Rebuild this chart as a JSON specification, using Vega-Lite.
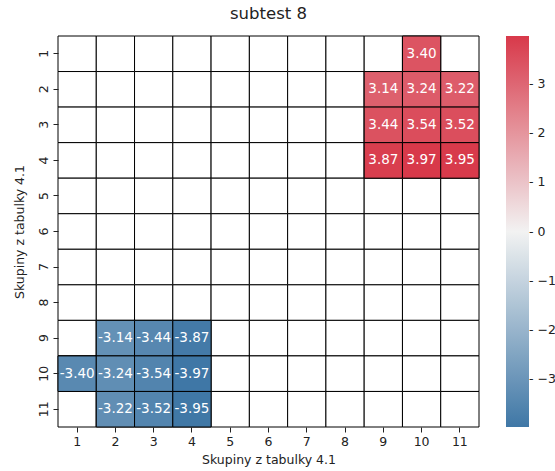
{
  "$schema": "https://vega.github.io/schema/vega-lite/v6.json",
  "autosize": "none",
  "width": 421,
  "height": 391,
  "padding": {"left": 58, "top": 36, "right": 76, "bottom": 44},
  "title": {"text": "subtest 8", "fontSize": 16.5, "fontWeight": "normal", "font": "DejaVu Sans", "color": "#222222", "offset": 13},
  "config": {
    "view": {"stroke": null},
    "font": "DejaVu Sans",
    "axis": {"labelFont": "DejaVu Sans", "titleFont": "DejaVu Sans", "labelFontSize": 12.5, "titleFontSize": 12.5, "titleFontWeight": "normal", "labelColor": "#222222", "titleColor": "#222222", "tickColor": "#222222", "domain": false, "tickSize": 5, "grid": false}
  },
  "data": {
    "values": [
      {"r": 1, "c": 1, "v": null}, {"r": 1, "c": 2, "v": null}, {"r": 1, "c": 3, "v": null}, {"r": 1, "c": 4, "v": null}, {"r": 1, "c": 5, "v": null}, {"r": 1, "c": 6, "v": null}, {"r": 1, "c": 7, "v": null}, {"r": 1, "c": 8, "v": null}, {"r": 1, "c": 9, "v": null}, {"r": 1, "c": 10, "v": 3.40}, {"r": 1, "c": 11, "v": null},
      {"r": 2, "c": 1, "v": null}, {"r": 2, "c": 2, "v": null}, {"r": 2, "c": 3, "v": null}, {"r": 2, "c": 4, "v": null}, {"r": 2, "c": 5, "v": null}, {"r": 2, "c": 6, "v": null}, {"r": 2, "c": 7, "v": null}, {"r": 2, "c": 8, "v": null}, {"r": 2, "c": 9, "v": 3.14}, {"r": 2, "c": 10, "v": 3.24}, {"r": 2, "c": 11, "v": 3.22},
      {"r": 3, "c": 1, "v": null}, {"r": 3, "c": 2, "v": null}, {"r": 3, "c": 3, "v": null}, {"r": 3, "c": 4, "v": null}, {"r": 3, "c": 5, "v": null}, {"r": 3, "c": 6, "v": null}, {"r": 3, "c": 7, "v": null}, {"r": 3, "c": 8, "v": null}, {"r": 3, "c": 9, "v": 3.44}, {"r": 3, "c": 10, "v": 3.54}, {"r": 3, "c": 11, "v": 3.52},
      {"r": 4, "c": 1, "v": null}, {"r": 4, "c": 2, "v": null}, {"r": 4, "c": 3, "v": null}, {"r": 4, "c": 4, "v": null}, {"r": 4, "c": 5, "v": null}, {"r": 4, "c": 6, "v": null}, {"r": 4, "c": 7, "v": null}, {"r": 4, "c": 8, "v": null}, {"r": 4, "c": 9, "v": 3.87}, {"r": 4, "c": 10, "v": 3.97}, {"r": 4, "c": 11, "v": 3.95},
      {"r": 5, "c": 1, "v": null}, {"r": 5, "c": 2, "v": null}, {"r": 5, "c": 3, "v": null}, {"r": 5, "c": 4, "v": null}, {"r": 5, "c": 5, "v": null}, {"r": 5, "c": 6, "v": null}, {"r": 5, "c": 7, "v": null}, {"r": 5, "c": 8, "v": null}, {"r": 5, "c": 9, "v": null}, {"r": 5, "c": 10, "v": null}, {"r": 5, "c": 11, "v": null},
      {"r": 6, "c": 1, "v": null}, {"r": 6, "c": 2, "v": null}, {"r": 6, "c": 3, "v": null}, {"r": 6, "c": 4, "v": null}, {"r": 6, "c": 5, "v": null}, {"r": 6, "c": 6, "v": null}, {"r": 6, "c": 7, "v": null}, {"r": 6, "c": 8, "v": null}, {"r": 6, "c": 9, "v": null}, {"r": 6, "c": 10, "v": null}, {"r": 6, "c": 11, "v": null},
      {"r": 7, "c": 1, "v": null}, {"r": 7, "c": 2, "v": null}, {"r": 7, "c": 3, "v": null}, {"r": 7, "c": 4, "v": null}, {"r": 7, "c": 5, "v": null}, {"r": 7, "c": 6, "v": null}, {"r": 7, "c": 7, "v": null}, {"r": 7, "c": 8, "v": null}, {"r": 7, "c": 9, "v": null}, {"r": 7, "c": 10, "v": null}, {"r": 7, "c": 11, "v": null},
      {"r": 8, "c": 1, "v": null}, {"r": 8, "c": 2, "v": null}, {"r": 8, "c": 3, "v": null}, {"r": 8, "c": 4, "v": null}, {"r": 8, "c": 5, "v": null}, {"r": 8, "c": 6, "v": null}, {"r": 8, "c": 7, "v": null}, {"r": 8, "c": 8, "v": null}, {"r": 8, "c": 9, "v": null}, {"r": 8, "c": 10, "v": null}, {"r": 8, "c": 11, "v": null},
      {"r": 9, "c": 1, "v": null}, {"r": 9, "c": 2, "v": -3.14}, {"r": 9, "c": 3, "v": -3.44}, {"r": 9, "c": 4, "v": -3.87}, {"r": 9, "c": 5, "v": null}, {"r": 9, "c": 6, "v": null}, {"r": 9, "c": 7, "v": null}, {"r": 9, "c": 8, "v": null}, {"r": 9, "c": 9, "v": null}, {"r": 9, "c": 10, "v": null}, {"r": 9, "c": 11, "v": null},
      {"r": 10, "c": 1, "v": -3.40}, {"r": 10, "c": 2, "v": -3.24}, {"r": 10, "c": 3, "v": -3.54}, {"r": 10, "c": 4, "v": -3.97}, {"r": 10, "c": 5, "v": null}, {"r": 10, "c": 6, "v": null}, {"r": 10, "c": 7, "v": null}, {"r": 10, "c": 8, "v": null}, {"r": 10, "c": 9, "v": null}, {"r": 10, "c": 10, "v": null}, {"r": 10, "c": 11, "v": null},
      {"r": 11, "c": 1, "v": null}, {"r": 11, "c": 2, "v": -3.22}, {"r": 11, "c": 3, "v": -3.52}, {"r": 11, "c": 4, "v": -3.95}, {"r": 11, "c": 5, "v": null}, {"r": 11, "c": 6, "v": null}, {"r": 11, "c": 7, "v": null}, {"r": 11, "c": 8, "v": null}, {"r": 11, "c": 9, "v": null}, {"r": 11, "c": 10, "v": null}, {"r": 11, "c": 11, "v": null}
    ]
  },
  "encoding": {
    "x": {"field": "c", "type": "ordinal", "scale": {"paddingInner": 0, "paddingOuter": 0}, "axis": {"title": "Skupiny z tabulky 4.1", "labelAngle": 0, "labelPadding": 3, "titlePadding": 6}},
    "y": {"field": "r", "type": "ordinal", "scale": {"paddingInner": 0, "paddingOuter": 0}, "axis": {"title": "Skupiny z tabulky 4.1", "labelAngle": -90, "labelAlign": "center", "labelBaseline": "bottom", "labelPadding": 3, "titlePadding": 11}}
  },
  "layer": [
    {
      "mark": {"type": "rect", "fill": "white", "stroke": "black", "strokeWidth": 1}
    },
    {
      "transform": [{"filter": "isValid(datum.v)"}],
      "mark": {"type": "rect", "stroke": "black", "strokeWidth": 1},
      "encoding": {
        "fill": {
          "field": "v", "type": "quantitative",
          "scale": {"domain": [-3.97, 0, 3.97], "range": ["#3f77a6", "#f2f2f2", "#d8394a"], "interpolate": "rgb"},
          "legend": {
            "title": null, "direction": "vertical", "gradientLength": 391, "gradientThickness": 23,
            "offset": 27, "values": [-3, -2, -1, 0, 1, 2, 3],
            "labelFont": "DejaVu Sans", "labelFontSize": 12.5, "labelColor": "#222222",
            "labelExpr": "'- ' + replace(datum.label, '-', '\u2212')",
            "gradientStrokeWidth": 0, "labelOffset": 0
          }
        }
      }
    },
    {
      "transform": [
        {"filter": "isValid(datum.v)"},
        {"calculate": "replace(format(datum.v, '.2f'), '\u2212', '-')", "as": "label"}
      ],
      "mark": {"type": "text", "color": "white", "fontSize": 13.5, "font": "DejaVu Sans"},
      "encoding": {"text": {"field": "label", "type": "nominal"}}
    }
  ]
}
